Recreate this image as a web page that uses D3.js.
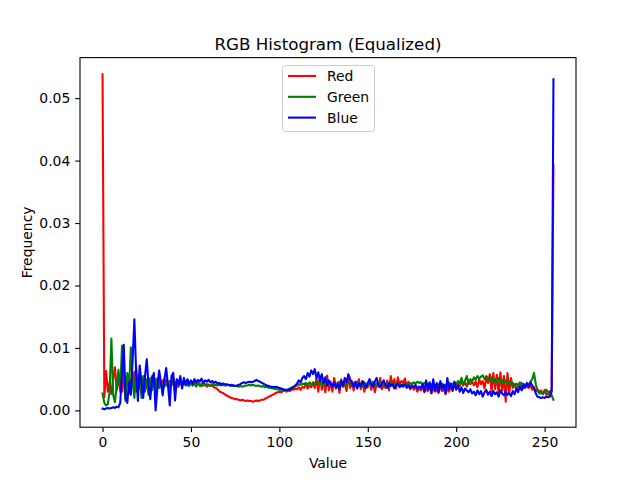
<!DOCTYPE html>
<html><head><meta charset="utf-8">
<script src="https://cdn.jsdelivr.net/npm/d3@7"></script>
<style>body{margin:0;background:#fff}svg{display:block}text{font-family:"DejaVu Sans",sans-serif;fill:#000}</style>
</head><body>
<svg id="c" width="640" height="480"></svg>
<script>
const seriesNames = ["Red", "Green", "Blue"];
const seriesColors = ["#ff0000", "#008000", "#0000ff"];
const xTicks = [0, 50, 100, 150, 200, 250];
const yTicks = [0, 0.01, 0.02, 0.03, 0.04, 0.05];

const red = [
.0538,.0021,.0063,.0030,.0045,.0026,.0050,.0069,.0032,.0045,
.0048,.0030,.0060,.0035,.0055,.0028,.0050,.0040,.0062,.0030,
.0055,.0035,.0050,.0028,.0052,.0036,.0048,.0030,.0055,.0040,
.0050,.0035,.0052,.0042,.0048,.0038,.0050,.0044,.0047,.0040,
.0052,.0043,.0046,.0038,.0049,.0044,.0042,.0047,.0040,.0045,
.0043,.0040,.0046,.0041,.0044,.0039,.0043,.0040,.0042,.0038,
.0041,.0039,.0040,.0037,.0036,.0034,.0031,.0029,.0028,.0026,
.0024,.0023,.0021,.0020,.0019,.0018,.0018,.0017,.0016,.0017,
.0016,.0015,.0016,.0015,.0015,.0014,.0015,.0016,.0015,.0016,
.0017,.0017,.0019,.0020,.0022,.0023,.0025,.0026,.0028,.0029,
.0030,.0029,.0031,.0032,.0030,.0033,.0031,.0034,.0033,.0035,
.0034,.0037,.0033,.0038,.0036,.0042,.0035,.0040,.0037,.0045,
.0036,.0052,.0030,.0055,.0033,.0048,.0029,.0056,.0032,.0046,
.0030,.0052,.0035,.0045,.0028,.0050,.0038,.0042,.0031,.0055,
.0036,.0047,.0032,.0044,.0039,.0050,.0034,.0046,.0030,.0041,
.0037,.0049,.0033,.0045,.0029,.0043,.0038,.0052,.0034,.0040,
.0036,.0048,.0032,.0055,.0040,.0050,.0035,.0053,.0042,.0047,
.0044,.0051,.0038,.0046,.0035,.0042,.0033,.0039,.0030,.0036,
.0032,.0038,.0029,.0035,.0031,.0040,.0027,.0036,.0030,.0033,
.0028,.0037,.0031,.0034,.0026,.0035,.0030,.0038,.0033,.0040,
.0036,.0044,.0039,.0046,.0041,.0045,.0038,.0048,.0042,.0046,
.0040,.0046,.0037,.0050,.0042,.0047,.0035,.0052,.0044,.0058,
.0030,.0060,.0034,.0057,.0026,.0061,.0032,.0055,.0014,.0060,
.0028,.0052,.0036,.0042,.0033,.0040,.0037,.0044,.0035,.0041,
.0038,.0036,.0040,.0033,.0037,.0030,.0034,.0029,.0032,.0026,
.0033,.0025,.0028,.0022,.0035,.0392];

const green = [
.0027,.0012,.0008,.0010,.0030,.0115,.0025,.0013,.0040,.0065,
.0030,.0104,.0050,.0015,.0060,.0035,.0101,.0045,.0020,.0070,
.0030,.0060,.0020,.0055,.0030,.0050,.0025,.0052,.0032,.0048,
.0030,.0052,.0036,.0047,.0028,.0050,.0040,.0046,.0035,.0048,
.0042,.0045,.0038,.0047,.0043,.0040,.0046,.0041,.0044,.0039,
.0045,.0040,.0043,.0038,.0044,.0041,.0039,.0043,.0040,.0042,
.0041,.0039,.0042,.0040,.0041,.0040,.0041,.0040,.0041,.0040,
.0040,.0041,.0040,.0039,.0040,.0039,.0039,.0038,.0039,.0038,
.0039,.0040,.0040,.0041,.0040,.0041,.0040,.0039,.0040,.0039,
.0038,.0039,.0037,.0038,.0036,.0037,.0035,.0035,.0034,.0034,
.0033,.0033,.0032,.0033,.0032,.0034,.0035,.0037,.0038,.0039,
.0040,.0042,.0041,.0043,.0042,.0044,.0041,.0045,.0042,.0043,
.0044,.0041,.0046,.0042,.0045,.0040,.0043,.0047,.0041,.0044,
.0039,.0045,.0042,.0040,.0046,.0043,.0038,.0044,.0041,.0045,
.0042,.0039,.0044,.0040,.0046,.0041,.0043,.0038,.0045,.0042,
.0040,.0044,.0041,.0046,.0039,.0043,.0042,.0045,.0040,.0044,
.0041,.0043,.0039,.0045,.0042,.0040,.0044,.0041,.0043,.0039,
.0042,.0040,.0043,.0041,.0044,.0042,.0045,.0043,.0046,.0044,
.0045,.0042,.0044,.0041,.0043,.0040,.0042,.0039,.0041,.0040,
.0042,.0039,.0043,.0040,.0041,.0038,.0044,.0040,.0042,.0045,
.0041,.0047,.0043,.0052,.0040,.0048,.0055,.0042,.0050,.0046,
.0053,.0049,.0055,.0051,.0054,.0056,.0050,.0055,.0052,.0048,
.0053,.0045,.0050,.0043,.0052,.0046,.0049,.0042,.0048,.0044,
.0046,.0041,.0044,.0039,.0043,.0040,.0045,.0038,.0042,.0040,
.0043,.0041,.0046,.0050,.0060,.0042,.0032,.0027,.0028,.0026,
.0030,.0033,.0029,.0031,.0024,.0017];

const blue = [
.0003,.0002,.0003,.0004,.0003,.0004,.0005,.0004,.0006,.0005,
.0012,.0060,.0105,.0020,.0012,.0045,.0025,.0080,.0146,.0060,
.0015,.0072,.0045,.0020,.0055,.0082,.0040,.0018,.0050,.0060,
.0000,.0035,.0064,.0045,.0024,.0050,.0068,.0040,.0008,.0055,
.0060,.0016,.0050,.0042,.0055,.0035,.0052,.0040,.0050,.0042,
.0048,.0043,.0050,.0045,.0049,.0046,.0051,.0044,.0048,.0046,
.0049,.0045,.0047,.0044,.0046,.0043,.0044,.0042,.0043,.0042,
.0042,.0041,.0040,.0041,.0040,.0039,.0040,.0041,.0042,.0044,
.0045,.0044,.0045,.0046,.0045,.0046,.0047,.0049,.0047,.0046,
.0044,.0043,.0041,.0040,.0039,.0038,.0038,.0037,.0038,.0037,
.0036,.0035,.0034,.0033,.0033,.0032,.0034,.0035,.0037,.0040,
.0043,.0048,.0045,.0052,.0055,.0050,.0060,.0054,.0064,.0058,
.0066,.0052,.0061,.0047,.0058,.0044,.0053,.0040,.0048,.0042,
.0038,.0045,.0036,.0042,.0034,.0047,.0040,.0052,.0045,.0058,
.0050,.0044,.0038,.0046,.0035,.0043,.0039,.0047,.0041,.0036,
.0044,.0050,.0042,.0038,.0046,.0052,.0041,.0037,.0043,.0048,
.0040,.0036,.0044,.0039,.0042,.0035,.0040,.0043,.0037,.0041,
.0038,.0042,.0036,.0040,.0034,.0039,.0037,.0041,.0035,.0038,
.0036,.0042,.0030,.0048,.0033,.0045,.0028,.0050,.0032,.0044,
.0029,.0047,.0035,.0041,.0027,.0052,.0034,.0043,.0031,.0046,
.0033,.0040,.0030,.0037,.0028,.0035,.0032,.0029,.0034,.0027,
.0030,.0024,.0032,.0026,.0031,.0022,.0029,.0033,.0025,.0030,
.0023,.0031,.0026,.0029,.0022,.0032,.0027,.0024,.0030,.0025,
.0028,.0023,.0031,.0026,.0035,.0029,.0038,.0032,.0042,.0036,
.0044,.0038,.0045,.0040,.0036,.0027,.0022,.0021,.0020,.0021,
.0020,.0022,.0021,.0023,.0030,.0530];

const series = [red, green, blue];

const svg = d3.select("#c");
const L = 80, R = 576, T = 57.6, B = 427.2;
const n = red.length;
const xMin = 0, xMax = n - 1;
const xPad = (xMax - xMin) * 0.05;
const x = d3.scaleLinear().domain([xMin - xPad, xMax + xPad]).range([L, R]);
const allV = series.flat();
const yLo = d3.min(allV), yHi = d3.max(allV);
const yPad = (yHi - yLo) * 0.05;
const y = d3.scaleLinear().domain([yLo - yPad, yHi + yPad]).range([B, T]);

const line = d3.line().x((d, i) => x(i)).y(d => y(d));
const g = svg.append("g");
series.forEach((s, k) => {
  g.append("path").datum(s).attr("d", line)
    .attr("fill", "none").attr("stroke", seriesColors[k])
    .attr("stroke-width", 2.08).attr("stroke-linejoin", "round").attr("stroke-linecap", "square");
});

// frame
svg.append("rect").attr("x", L).attr("y", T).attr("width", R - L).attr("height", B - T)
  .attr("fill", "none").attr("stroke", "#000").attr("stroke-width", 1.1);

const fs = 13.9;
const xAxis = d3.axisBottom(x).tickValues(xTicks).tickSize(4.86).tickPadding(4.86).tickFormat(d3.format("d"));
const xa = svg.append("g").attr("transform", `translate(0,${B})`).call(xAxis);
const yAxis = d3.axisLeft(y).tickValues(yTicks).tickSize(4.86).tickPadding(4.86).tickFormat(d3.format(".2f"));
const ya = svg.append("g").attr("transform", `translate(${L},0)`).call(yAxis);
[xa, ya].forEach(a => {
  a.select(".domain").remove();
  a.selectAll("line").attr("stroke", "#000").attr("stroke-width", 1.1);
  a.selectAll("text").attr("font-size", fs).attr("font-family", "DejaVu Sans").attr("fill", "#000");
});

svg.append("text").attr("x", (L + R) / 2).attr("y", 49.5).attr("text-anchor", "middle")
  .attr("font-size", 16.7).text("RGB Histogram (Equalized)");
svg.append("text").attr("x", (L + R) / 2).attr("y", 468).attr("text-anchor", "middle")
  .attr("font-size", fs).text("Value");
svg.append("text").attr("transform", `translate(32,${(T + B) / 2}) rotate(-90)`).attr("text-anchor", "middle")
  .attr("font-size", fs).text("Frequency");

// legend
const lg = svg.append("g");
lg.append("rect").attr("x", 282.5).attr("y", 65.5).attr("width", 92).attr("height", 66)
  .attr("rx", 3).attr("fill", "#fff").attr("fill-opacity", 0.8).attr("stroke", "#cccccc").attr("stroke-width", 1);
seriesNames.forEach((nm, k) => {
  const yy = 76 + k * 20.8;
  lg.append("line").attr("x1", 288).attr("x2", 316).attr("y1", yy).attr("y2", yy)
    .attr("stroke", seriesColors[k]).attr("stroke-width", 2.08);
  lg.append("text").attr("x", 327).attr("y", yy + 5).attr("font-size", fs).text(nm);
});
</script>
</body></html>
